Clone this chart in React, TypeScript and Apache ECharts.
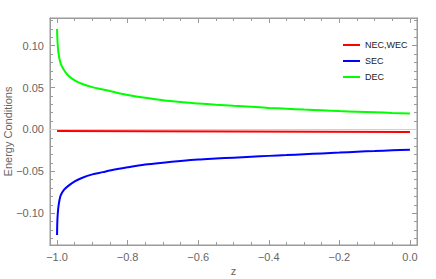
import React, { useEffect, useRef } from "react";
import * as echarts from "echarts";

const zValues = [-1, -0.999, -0.996, -0.99, -0.98, -0.97, -0.95, -0.93, -0.9, -0.87, -0.85, -0.8, -0.75, -0.7, -0.65, -0.6, -0.55, -0.5, -0.45, -0.4, -0.35, -0.3, -0.25, -0.2, -0.15, -0.1, -0.05, 0];
const decValues = [0.12, 0.107, 0.091, 0.079, 0.0705, 0.065, 0.0585, 0.0545, 0.0505, 0.0477, 0.0458, 0.0412, 0.0377, 0.0347, 0.0326, 0.031, 0.0295, 0.0281, 0.027, 0.0257, 0.0247, 0.0237, 0.0228, 0.0219, 0.0211, 0.0204, 0.0197, 0.0191];
const secValues = [-0.126, -0.108, -0.092, -0.079, -0.072, -0.068, -0.062, -0.058, -0.0537, -0.051, -0.049, -0.0453, -0.042, -0.0397, -0.0377, -0.036, -0.0348, -0.0337, -0.0326, -0.0316, -0.0307, -0.0297, -0.0287, -0.0277, -0.0266, -0.0258, -0.025, -0.0243];
const necZ = [-1, -0.5, 0];
const necValues = [-0.0018, -0.0024, -0.003];

const xMajor = [-1, -0.8, -0.6, -0.4, -0.2, 0];
const xMinor = [-0.95, -0.9, -0.85, -0.75, -0.7, -0.65, -0.55, -0.5, -0.45, -0.35, -0.3, -0.25, -0.15, -0.1, -0.05];
const yMajor = [-0.1, -0.05, 0, 0.05, 0.1];
const yMinor = [-0.13, -0.12, -0.11, -0.09, -0.08, -0.07, -0.06, -0.04, -0.03, -0.02, -0.01, 0.01, 0.02, 0.03, 0.04, 0.06, 0.07, 0.08, 0.09, 0.11, 0.12, 0.13];

const X_MIN = -1.02;
const X_MAX = 0.02;
const Y_MIN = -0.138;
const Y_MAX = 0.133;

const FRAME = "#999999";
const FRAME2 = "#9b9b9b";
const LABEL = "#666666";
const FONT = "Liberation Sans, Arial, sans-serif";

const fmtX = (v: number) => {
  const s = Math.abs(v).toFixed(1);
  return v < -1e-9 ? "\u2212" + s : s;
};
const fmtY = (v: number) => {
  const s = Math.abs(v).toFixed(2);
  return v < -1e-9 ? "\u2212" + s : s;
};

function makeX(position: "top" | "bottom", values: number[], len: number, labels: boolean, color: string, extra: any = {}) {
  return {
    type: "value",
    position,
    min: X_MIN,
    max: X_MAX,
    axisLine: { show: true, onZero: false, lineStyle: { color, width: 1 } },
    axisTick: { show: true, inside: true, length: len, customValues: values, lineStyle: { color, width: 1 } },
    axisLabel: {
      show: labels,
      customValues: values,
      formatter: fmtX,
      color: LABEL,
      fontSize: 11,
      fontFamily: FONT,
      margin: 6,
    },
    splitLine: { show: false },
    ...extra,
  };
}

function makeY(position: "left" | "right", values: number[], len: number, labels: boolean, color: string, extra: any = {}) {
  return {
    type: "value",
    position,
    min: Y_MIN,
    max: Y_MAX,
    axisLine: { show: true, onZero: false, lineStyle: { color, width: 1 } },
    axisTick: { show: true, inside: true, length: len, customValues: values, lineStyle: { color, width: 1 } },
    axisLabel: {
      show: labels,
      customValues: values,
      formatter: fmtY,
      color: LABEL,
      fontSize: 11,
      fontFamily: FONT,
      margin: 6,
    },
    splitLine: { show: false },
    ...extra,
  };
}

export default function App() {
  const ref = useRef<HTMLDivElement>(null);
  useEffect(() => {
    if (!ref.current) return;
    const chart = echarts.init(ref.current, undefined, { renderer: "svg" });
    chart.setOption({
      animation: false,
      backgroundColor: "#ffffff",
      grid: {
        left: 50,
        right: 19,
        top: 18,
        bottom: 34,
        containLabel: false,
        outerBoundsMode: "none",
        show: true,
        borderColor: FRAME,
        borderWidth: 1,
        backgroundColor: "transparent",
      },
      legend: {
        orient: "vertical",
        left: 338,
        top: 35,
        icon: "rect",
        itemWidth: 17,
        itemHeight: 2,
        itemGap: 6,
        textStyle: { fontSize: 9, color: "#222", fontFamily: FONT, lineHeight: 10 },
        data: ["NEC,WEC", "SEC", "DEC"],
      },
      xAxis: [
        makeX("bottom", xMajor, 5, true, FRAME, {
          name: "z",
          nameLocation: "middle",
          nameGap: 20,
          nameMoveOverlap: false,
          nameTextStyle: { color: LABEL, fontSize: 11, fontFamily: FONT },
        }),
        makeX("bottom", xMinor, 3, false, FRAME2),
        makeX("top", xMajor, 5, false, FRAME),
        makeX("top", xMinor, 3, false, FRAME2),
      ],
      yAxis: [
        makeY("left", yMajor, 5, true, FRAME, {
          name: "Energy Conditions",
          nameLocation: "middle",
          nameGap: 37,
          nameMoveOverlap: false,
          nameTextStyle: { color: LABEL, fontSize: 11, fontFamily: FONT },
        }),
        makeY("left", yMinor, 3, false, FRAME2),
        makeY("right", yMajor, 5, false, FRAME),
        makeY("right", yMinor, 3, false, FRAME2),
      ],
      series: [
        {
          name: "NEC,WEC",
          type: "line",
          data: necZ.map((z, i) => [z, necValues[i]]),
          showSymbol: false,
          lineStyle: { color: "#ff0000", width: 2 },
          itemStyle: { color: "#ff0000" },
          z: 3,
          markLine: {
            silent: true,
            symbol: "none",
            label: { show: false },
            lineStyle: { color: "#d0d0d0", width: 1, type: "solid" },
            data: [{ yAxis: 0 }],
            z: 1,
          },
        },
        {
          name: "SEC",
          type: "line",
          data: zValues.map((z, i) => [z, secValues[i]]),
          showSymbol: false,
          smooth: 0.3,
          lineStyle: { color: "#0000ff", width: 2 },
          itemStyle: { color: "#0000ff" },
        },
        {
          name: "DEC",
          type: "line",
          data: zValues.map((z, i) => [z, decValues[i]]),
          showSymbol: false,
          smooth: 0.3,
          lineStyle: { color: "#00ff00", width: 2 },
          itemStyle: { color: "#00ff00" },
        },
      ],
    });
    return () => chart.dispose();
  }, []);
  return <div ref={ref} style={{ width: 436, height: 279, position: "absolute", left: 0, top: 0 }} />;
}
